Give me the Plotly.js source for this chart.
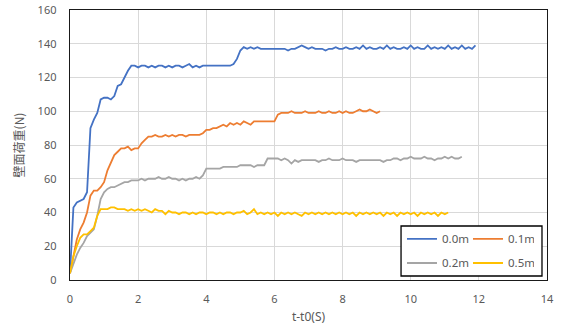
<!DOCTYPE html>
<html>
<head>
<meta charset="utf-8">
<script src="https://cdn.plot.ly/plotly-3.0.1.min.js"></script>
<style>html,body{margin:0;padding:0;background:#fff;}#chart{width:570px;height:327px;}</style>
</head>
<body>
<div id="chart"></div>
<script>
// sampling times (s)
var T = [0,0.1,0.2,0.3,0.4,0.5,0.6,0.7,0.8,0.9,1.0,1.1,1.2,1.3,1.4,1.5,1.6,1.7,1.8,1.9,
2.0,2.1,2.2,2.3,2.4,2.5,2.6,2.7,2.8,2.9,3.0,3.1,3.2,3.3,3.4,3.5,3.6,3.7,3.8,3.9,
4.0,4.1,4.2,4.3,4.4,4.5,4.6,4.7,4.8,4.9,5.0,5.1,5.2,5.3,5.4,5.5,5.6,5.7,5.8,5.9,
6.0,6.1,6.2,6.3,6.4,6.5,6.6,6.7,6.8,6.9,7.0,7.1,7.2,7.3,7.4,7.5,7.6,7.7,7.8,7.9,
8.0,8.1,8.2,8.3,8.4,8.5,8.6,8.7,8.8,8.9,9.0,9.1,9.2,9.3,9.4,9.5,9.6,9.7,9.8,9.9,
10.0,10.1,10.2,10.3,10.4,10.5,10.6,10.7,10.8,10.9,11.0,11.1,11.2,11.3,11.4,11.5,11.6,11.7,11.8,11.9,12.0];

var seriesNames = ["0.0m","0.1m","0.2m","0.5m"];

var load00 = [4,43,46,47,48,52,90,95,99,107,108,108,107,109,115,116,120,124,127,127,
126,127,127,126,127,126,127,127,126,127,126,127,127,126,127,128,126,127,126,127,
127,127,127,127,127,127,127,127,128,131,136,138,137,138,137,138,137,137,137,137,
137,137,137,137,136,137,137,138,139,138,137,138,137,137,137,136,137,137,138,137,
137,138,137,137,138,137,139,137,138,137,137,138,137,139,137,138,137,137,138,137,
139,137,138,137,137,139,137,138,137,138,137,139,137,138,137,139,137,138,137,139];

var load01 = [4,15,24,30,34,40,50,53,53,55,58,65,70,74,76,78,78,79,77,78,
78,81,83,85,85,86,85,85,86,85,86,85,86,86,85,86,86,86,86,87,
89,89,90,90,91,92,91,93,92,93,92,94,93,92,94,94,94,94,94,94,
94,98,99,99,99,100,99,99,99,100,99,99,99,100,99,99,100,99,99,100,
99,100,99,99,100,101,100,100,101,100,99,100];

var load02 = [4,10,15,19,22,26,28,30,38,48,52,54,55,55,56,57,58,58,59,59,
59,60,59,60,60,60,61,60,60,61,60,60,59,60,59,60,60,61,60,62,
66,66,66,66,66,67,67,67,67,67,68,68,68,68,67,68,68,68,72,72,
72,72,71,72,71,69,71,70,71,71,71,71,71,70,71,71,72,71,71,71,
72,71,71,71,70,71,71,71,71,71,71,71,70,71,71,72,72,71,72,72,
73,72,72,72,73,72,72,71,72,72,73,72,73,72,72,73];

var load05 = [4,14,20,25,27,27,29,31,38,42,42,42,43,43,42,42,42,41,42,41,
42,41,42,41,40,42,41,41,39,41,40,40,39,40,40,39,40,39,40,40,
39,40,40,39,40,39,40,40,39,40,40,41,39,40,42,39,40,39,40,39,
40,38,40,39,40,39,40,39,38,40,39,40,39,40,39,40,39,40,39,40,
39,40,39,40,38,40,39,40,39,40,39,40,38,40,39,40,38,40,39,40,
39,40,38,40,39,40,39,40,38,40,39,40];

var xTicks = [0,2,4,6,8,10,12,14];
var yTicks = [0,20,40,60,80,100,120,140,160];

var colors = ["#4472C4","#ED7D31","#A5A5A5","#FFC000"];
var allLoads = [load00, load01, load02, load05];
var legendIds = ["legend","legend","legend2","legend2"];

var traces = allLoads.map(function(v, i){
  return {
    x: T.slice(0, v.length), y: v, type: "scatter", mode: "lines",
    name: seriesNames[i], legend: legendIds[i],
    line: {color: colors[i], width: 1.8}
  };
});

var fontFam = "Noto Sans, Liberation Sans, sans-serif";
var legendCommon = {
  orientation: "h", xanchor: "left", yanchor: "middle",
  bgcolor: "rgba(0,0,0,0)", borderwidth: 0,
  font: {family: fontFam, size: 11.5, color: "#595959"},
  entrywidth: 21, entrywidthmode: "pixels", tracegroupgap: 0, itemwidth: 30
};

var layout = {
  width: 570, height: 327,
  margin: {l: 70, r: 23, t: 10, b: 47, autoexpand: false},
  paper_bgcolor: "#fff", plot_bgcolor: "#fff",
  showlegend: true,
  xaxis: {
    range: [0, 14], tickvals: xTicks, ticktext: xTicks.map(String),
    showgrid: true, gridcolor: "#d9d9d9", gridwidth: 1, zeroline: false,
    showline: true, mirror: true, linecolor: "#1a1a1a", linewidth: 1.3,
    ticks: "", ticklabelstandoff: 8,
    tickfont: {family: fontFam, size: 11, color: "#595959"},
    title: {text: "t-t0(S)", standoff: 8, font: {family: fontFam, size: 12, color: "#595959"}}
  },
  yaxis: {
    range: [0, 160], tickvals: yTicks, ticktext: yTicks.map(String),
    showgrid: true, gridcolor: "#d9d9d9", gridwidth: 1, zeroline: false,
    showline: true, mirror: true, linecolor: "#1a1a1a", linewidth: 1.3,
    ticks: "", ticklabelstandoff: 10,
    tickfont: {family: fontFam, size: 11, color: "#595959"},
    title: {text: "壁面荷重(N)", standoff: 10, font: {family: "Noto Sans CJK JP, sans-serif", size: 12, color: "#595959"}}
  },
  legend: Object.assign({}, legendCommon, {x: 0.696, y: 0.152}),
  legend2: Object.assign({}, legendCommon, {x: 0.696, y: 0.063}),
  shapes: [{
    type: "rect", xref: "paper", yref: "paper", layer: "above",
    x0: 0.694, x1: 0.9895, y0: 0.0148, y1: 0.2,
    fillcolor: "#fff", line: {color: "#000", width: 1.3}
  }]
};

Plotly.newPlot("chart", traces, layout, {staticPlot: true, displayModeBar: false});
</script>
</body>
</html>
